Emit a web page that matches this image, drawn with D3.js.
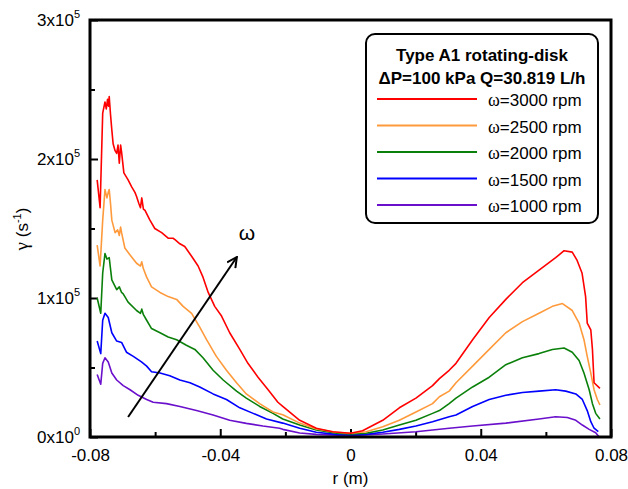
<!DOCTYPE html>
<html>
<head>
<meta charset="utf-8">
<script src="https://cdn.jsdelivr.net/npm/d3@7"></script>
<style>
body { margin: 0; background: #fff; }
text { font-family: "Liberation Sans", Arial, sans-serif; }
</style>
</head>
<body>
<svg width="628" height="489"></svg>
<script>
var plotLeft = 90, plotRight = 611, plotTop = 20, plotBottom = 437

// r (m), gamma (1/s)
var rpm3000 = [[-0.0778,185000],[-0.0769,165000],[-0.0761,233000],[-0.0754,241000],[-0.0750,236000],[-0.0746,243000],[-0.0743,238000],[-0.0741,245000],[-0.0737,232000],[-0.0733,221000],[-0.0729,211000],[-0.0723,206000],[-0.0718,204000],[-0.0714,210000],[-0.0710,197000],[-0.0706,210000],[-0.0703,205000],[-0.0696,190000],[-0.0683,185000],[-0.0672,180000],[-0.0662,176000],[-0.0657,173000],[-0.0650,168000],[-0.0645,165000],[-0.0641,172000],[-0.0636,164000],[-0.0631,163000],[-0.0616,156000],[-0.0601,150000],[-0.0580,147000],[-0.0560,143000],[-0.0545,143000],[-0.0539,142000],[-0.0524,139000],[-0.0509,137000],[-0.0488,130000],[-0.0468,123000],[-0.0453,115000],[-0.0437,104000],[-0.0417,94000],[-0.0396,87000],[-0.0371,75000],[-0.0340,63000],[-0.0315,53000],[-0.0284,43000],[-0.0253,34000],[-0.0223,25000],[-0.0208,22000],[-0.0156,12000],[-0.0105,6300],[-0.0055,3800],[0,2700],[0.0037,4500],[0.0099,12000],[0.0150,21000],[0.0201,28000],[0.0252,37000],[0.0273,42000],[0.0303,48000],[0.0324,53000],[0.0375,70000],[0.0426,86000],[0.0477,99000],[0.0528,111000],[0.0579,120000],[0.0630,129000],[0.0656,134000],[0.0681,133000],[0.0696,127000],[0.0711,118000],[0.0722,101000],[0.0727,82000],[0.0738,77000],[0.0743,63000],[0.0748,39000],[0.0766,35000]]
var rpm2500 = [[-0.0778,138000],[-0.0769,123000],[-0.0761,156000],[-0.0754,178000],[-0.0748,172000],[-0.0744,176000],[-0.0741,178000],[-0.0737,168000],[-0.0733,156000],[-0.0723,147000],[-0.0715,149000],[-0.0710,145000],[-0.0706,151000],[-0.0703,147000],[-0.0693,136000],[-0.0677,131000],[-0.0657,125000],[-0.0645,123000],[-0.0641,126000],[-0.0636,121000],[-0.0626,115000],[-0.0611,108000],[-0.0585,104000],[-0.0560,101000],[-0.0534,99000],[-0.0514,94000],[-0.0488,89000],[-0.0463,79000],[-0.0442,70000],[-0.0412,58000],[-0.0381,48000],[-0.0350,39000],[-0.0320,31000],[-0.0279,24000],[-0.0238,18000],[-0.0208,16000],[-0.0156,10000],[-0.0105,5700],[-0.0044,3400],[0,2700],[0.0048,3800],[0.0099,7400],[0.0150,12000],[0.0201,18000],[0.0252,24000],[0.0273,29000],[0.0303,33000],[0.0324,39000],[0.0375,51000],[0.0426,63000],[0.0477,75000],[0.0528,83000],[0.0579,89000],[0.0620,94000],[0.0651,96000],[0.0681,91000],[0.0702,82000],[0.0717,70000],[0.0727,58000],[0.0738,46000],[0.0748,34000],[0.0758,27000],[0.0766,23000]]
var rpm2000 = [[-0.0778,100000],[-0.0767,89000],[-0.0761,118000],[-0.0754,132000],[-0.0748,128000],[-0.0741,129000],[-0.0733,113000],[-0.0718,106000],[-0.0710,108000],[-0.0703,104000],[-0.0698,103000],[-0.0683,97000],[-0.0657,91000],[-0.0645,89000],[-0.0641,92000],[-0.0636,88000],[-0.0626,84000],[-0.0611,78000],[-0.0585,75000],[-0.0560,72000],[-0.0534,70000],[-0.0504,66000],[-0.0478,63000],[-0.0453,57000],[-0.0422,48000],[-0.0391,41000],[-0.0350,33000],[-0.0320,28000],[-0.0279,22000],[-0.0238,17000],[-0.0208,13000],[-0.0156,8600],[-0.0105,5000],[-0.0044,2700],[0,2200],[0.0048,2700],[0.0099,5000],[0.0150,8600],[0.0201,12000],[0.0252,17000],[0.0273,19000],[0.0303,24000],[0.0324,28000],[0.0375,36000],[0.0426,43000],[0.0477,52000],[0.0528,57000],[0.0579,60000],[0.0620,63000],[0.0656,64000],[0.0681,61000],[0.0702,55000],[0.0717,46000],[0.0733,34000],[0.0743,24000],[0.0753,17000],[0.0766,13000]]
var rpm1500 = [[-0.0778,69000],[-0.0767,60000],[-0.0761,84000],[-0.0754,89000],[-0.0744,86000],[-0.0733,75000],[-0.0718,69000],[-0.0703,68000],[-0.0688,61000],[-0.0667,58000],[-0.0642,54000],[-0.0626,51000],[-0.0611,47000],[-0.0585,46000],[-0.0555,44000],[-0.0524,41000],[-0.0493,39000],[-0.0463,36000],[-0.0422,31000],[-0.0381,27000],[-0.0340,21000],[-0.0299,17000],[-0.0258,13000],[-0.0208,10000],[-0.0156,6300],[-0.0105,3400],[-0.0044,1900],[0,1400],[0.0048,1900],[0.0099,3400],[0.0150,5500],[0.0201,7900],[0.0252,11000],[0.0303,14600],[0.0324,15800],[0.0375,22000],[0.0426,27000],[0.0477,30000],[0.0528,32000],[0.0579,33000],[0.0630,34000],[0.0661,33000],[0.0692,31000],[0.0712,27000],[0.0727,19000],[0.0738,11000],[0.0748,6300],[0.0761,3800]]
var rpm1000 = [[-0.0778,45000],[-0.0767,38000],[-0.0761,53000],[-0.0754,57000],[-0.0744,54000],[-0.0733,46000],[-0.0718,41000],[-0.0698,37000],[-0.0677,34000],[-0.0652,30000],[-0.0626,27000],[-0.0606,25000],[-0.0565,24000],[-0.0524,22000],[-0.0473,19000],[-0.0422,15800],[-0.0371,12000],[-0.0320,9800],[-0.0269,7900],[-0.0218,6300],[-0.0208,5500],[-0.0156,2900],[-0.0105,1900],[0,1000],[0.0099,2200],[0.0201,3800],[0.0303,6300],[0.0375,7900],[0.0477,10000],[0.0579,13000],[0.0630,14600],[0.0666,14000],[0.0692,12000],[0.0712,8600],[0.0733,5500],[0.0753,3100],[0.0763,200]]

var seriesNames = ["ω=3000 rpm","ω=2500 rpm","ω=2000 rpm","ω=1500 rpm","ω=1000 rpm"]
var seriesData = [rpm3000, rpm2500, rpm2000, rpm1500, rpm1000]
var seriesCols = ["#ff0000","#ff9a3c","#0a800a","#0000ff","#6a10cc"]

var xMajor = [-0.08,-0.04,0,0.04,0.08]
var xMinor = [-0.06,-0.02,0.02,0.06]
var yMajor = [0,100000,200000,300000]
var yMinor = [50000,150000,250000]
var yLabels = [["0","0"],["1","5"],["2","5"],["3","5"]]

var legendTitle = ["Type A1 rotating-disk","ΔP=100 kPa Q=30.819 L/h"]
var arrowFrom = [-0.0683, 14400], arrowTo = [-0.0349, 129500], arrowLabel = [-0.0318, 142000]

var svg = d3.select("svg")

var xScale = d3.scaleLinear().domain([-0.08,0.08]).range([plotLeft,plotRight])
var yScale = d3.scaleLinear().domain([0,300000]).range([plotBottom,plotTop])

// minor ticks
svg.append("g")
	.attr("transform","translate(0,"+plotBottom+")")
	.call(d3.axisBottom(xScale).tickValues(xMinor).tickSize(-5).tickFormat(""))
	.call(g => g.select(".domain").remove())
	.selectAll("line").attr("stroke-width",2)
svg.append("g")
	.attr("transform","translate("+plotLeft+",0)")
	.call(d3.axisLeft(yScale).tickValues(yMinor).tickSize(-5).tickFormat(""))
	.call(g => g.select(".domain").remove())
	.selectAll("line").attr("stroke-width",2)

// major ticks
var xAxis = svg.append("g")
	.attr("transform","translate(0,"+plotBottom+")")
	.call(d3.axisBottom(xScale).tickValues(xMajor).tickSize(-8).tickPadding(12)
		.tickFormat(function(d){ return d === 0 ? "0" : d.toFixed(2) }))
xAxis.select(".domain").remove()
xAxis.selectAll("line").attr("stroke-width",2)
xAxis.selectAll("text").attr("font-size",17).attr("fill","#000")
	.attr("font-family","Liberation Sans, Arial, sans-serif")

var yAxis = svg.append("g")
	.attr("transform","translate("+plotLeft+",0)")
	.call(d3.axisLeft(yScale).tickValues(yMajor).tickSize(-8).tickFormat(""))
yAxis.select(".domain").remove()
yAxis.selectAll("line").attr("stroke-width",2)

var yText = svg.append("g").selectAll("text")
	.data(yMajor)
	.join("text")
	.attr("x", plotLeft-10)
	.attr("y", function(d){ return yScale(d)+6 })
	.attr("text-anchor","end")
	.attr("font-size",17)
yText.append("tspan").text(function(d,i){ return yLabels[i][0]+"x10" })
yText.append("tspan").attr("dy",-8).attr("font-size",11).text(function(d,i){ return yLabels[i][1] })

// curves
var line = d3.line()
	.x(function(d){ return xScale(d[0]) })
	.y(function(d){ return yScale(d[1]) })

svg.append("g").selectAll("path")
	.data(seriesData.slice().reverse())
	.join("path")
	.attr("d", line)
	.attr("fill","none")
	.attr("stroke", function(d,i){ return seriesCols[seriesCols.length-1-i] })
	.attr("stroke-width",1.6)
	.attr("stroke-linejoin","round")

// frame
svg.append("rect")
	.attr("x",plotLeft).attr("y",plotTop)
	.attr("width",plotRight-plotLeft).attr("height",plotBottom-plotTop)
	.attr("fill","none").attr("stroke","#000").attr("stroke-width",3)

// axis titles
svg.append("text")
	.attr("x",(plotLeft+plotRight)/2).attr("y",484)
	.attr("text-anchor","middle").attr("font-size",17)
	.text("r (m)")

var yTitle = svg.append("text")
	.attr("transform","translate(28,229) rotate(-90)")
	.attr("text-anchor","middle").attr("font-size",17)
yTitle.append("tspan").attr("font-family","Liberation Serif, serif").attr("font-size",19).text("γ")
yTitle.append("tspan").text(" (s")
yTitle.append("tspan").attr("dy",-7).attr("font-size",11).text("-1")
yTitle.append("tspan").attr("dy",7).text(")")

// arrow
svg.append("defs").append("marker")
	.attr("id","head")
	.attr("viewBox","0 0 12 12")
	.attr("refX",11).attr("refY",6)
	.attr("markerWidth",12).attr("markerHeight",12)
	.attr("markerUnits","userSpaceOnUse")
	.attr("orient","auto")
	.append("path")
	.attr("d","M1,1 L11,6 L1,11")
	.attr("fill","none").attr("stroke","#000").attr("stroke-width",2)

svg.append("line")
	.attr("x1",xScale(arrowFrom[0])).attr("y1",yScale(arrowFrom[1]))
	.attr("x2",xScale(arrowTo[0])).attr("y2",yScale(arrowTo[1]))
	.attr("stroke","#000").attr("stroke-width",2)
	.attr("marker-end","url(#head)")

svg.append("text")
	.attr("x",xScale(arrowLabel[0])).attr("y",yScale(arrowLabel[1]))
	.attr("text-anchor","middle").attr("font-size",21)
	.attr("font-family","Liberation Serif, serif")
	.text("ω")

// legend
var legend = svg.append("g")
legend.append("rect")
	.attr("x",366).attr("y",34).attr("width",232).attr("height",189)
	.attr("rx",9).attr("fill","#fff").attr("stroke","#000").attr("stroke-width",2)

legend.selectAll(".ltitle")
	.data(legendTitle)
	.join("text")
	.attr("class","ltitle")
	.attr("x",482).attr("y",function(d,i){ return 61 + i*22.5 })
	.attr("text-anchor","middle").attr("font-size",17).attr("font-weight","bold")
	.text(function(d){ return d })

var entries = legend.selectAll(".entry")
	.data(seriesNames)
	.join("g")
	.attr("class","entry")
	.attr("transform",function(d,i){ return "translate(0,"+(99 + i*26.5)+")" })
entries.append("line")
	.attr("x1",377).attr("x2",477)
	.attr("stroke",function(d,i){ return seriesCols[i] })
	.attr("stroke-width",2)
var eText = entries.append("text")
	.attr("x",488).attr("y",7).attr("font-size",17)
eText.append("tspan").attr("font-family","Liberation Serif, serif").attr("font-size",18)
	.text(function(d){ return d.slice(0,1) })
eText.append("tspan").text(function(d){ return d.slice(1) })
</script>
</body>
</html>
